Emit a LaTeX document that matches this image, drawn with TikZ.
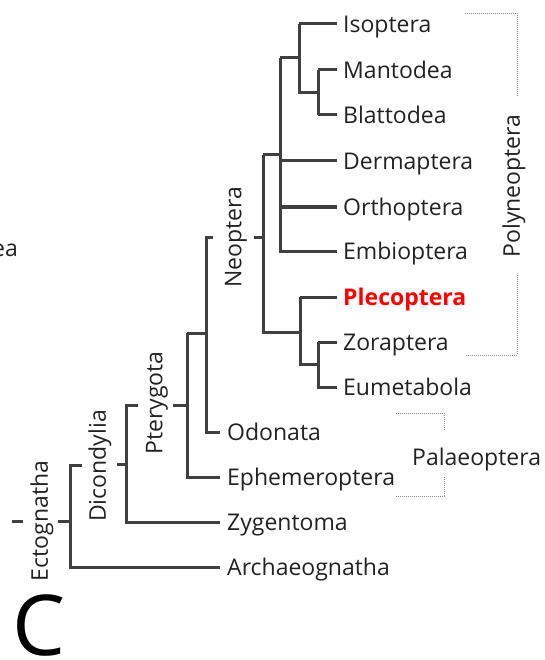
\documentclass[tikz,border=0pt]{standalone}
\usepackage{fontspec}
\setmainfont{Open Sans}
\definecolor{brc}{HTML}{404040}
\definecolor{txc}{HTML}{222222}
\definecolor{bkc}{HTML}{8A8A8A}
\definecolor{plc}{HTML}{FF0000}
\begin{document}
\begin{tikzpicture}[x=1pt,y=-1pt,
  br/.style={draw=brc,line width=3pt,line cap=butt,line join=miter},
  brk/.style={draw=bkc,line width=0.9pt,dash pattern=on 1pt off 1pt},
  tx/.style={font=\fontsize{23}{26}\selectfont,text=txc,inner sep=0pt,anchor=west,text height=16.4pt,text depth=0pt},
  cl/.style={font=\fontsize{23}{26}\selectfont,text=txc,inner sep=0pt,rotate=90}]
\useasboundingbox (0,0) rectangle (544,660);
% leaf labels
\node[tx] (iso) at (343,24) {Isoptera};
\node[tx] (man) at (343,70) {Mantodea};
\node[tx] (bla) at (343,115) {Blattodea};
\node[tx] (der) at (343,161) {Dermaptera};
\node[tx] (ort) at (343,207) {Orthoptera};
\node[tx] (emb) at (343,251) {Embioptera};
\node[tx,font=\fontsize{23}{26}\selectfont\bfseries,text=plc] (ple) at (343,297) {Plecoptera};
\node[tx] (zor) at (343,342) {Zoraptera};
\node[tx] (eum) at (343,387) {Eumetabola};
\node[tx] (odo) at (227,432) {Odonata};
\node[tx] (eph) at (227,477) {Ephemeroptera};
\node[tx] (zyg) at (227,522) {Zygentoma};
\node[tx] (arc) at (227,567) {Archaeognatha};
\node[tx,anchor=east] (ea) at (18,248) {ea};
% clade labels
\node[cl] (neo) at (236,237) {Neoptera};
\node[cl] (pte) at (157,403) {Pterygota};
\node[cl] (dic) at (100,466) {Dicondylia};
\node[cl] (ect) at (42,521) {Ectognatha};
\node[cl] (pol) at (514,186) {Polyneoptera};
\node[tx] (pal) at (412,457) {Palaeoptera};
\node[font=\fontsize{84}{90}\selectfont,text=black,inner sep=0pt,anchor=base west] (C) at (12,655) {C};
% internal nodes
\coordinate (nIMB) at (299,24);
\coordinate (nMB) at (318,70);
\coordinate (nPoly) at (280,58);
\coordinate (nNeo) at (263,155);
\coordinate (nPZE) at (300,297);
\coordinate (nZE) at (318,342);
\coordinate (nNO) at (206,237);
\coordinate (nPte) at (187,333);
\coordinate (nDic) at (126,405);
\coordinate (nEct) at (70,465);
% tree
\draw[br] (nMB) -- ([xshift=-6pt]man.west);
\draw[br] (nMB |- bla) -- ([xshift=-6pt]bla.west);
\draw[br] (nMB) -- (nMB |- bla);
\draw[br] (nIMB) -- ([xshift=-6pt]iso.west);
\draw[br] (nIMB) -- (299,93) -- (318,93);
\draw[br] (nPoly) -- (nIMB |- nPoly);
\draw[br] (nPoly) -- (nPoly |- emb) -- ([xshift=-6pt]emb.west);
\draw[br] (nPoly |- der) -- ([xshift=-6pt]der.west);
\draw[br] (nPoly |- ort) -- ([xshift=-6pt]ort.west);
\draw[br] (nNeo) -- (nPoly |- nNeo);
\draw[br] (nNeo) -- (263,332) -- (300,332);
\draw[br] (254,237) -- (263,237);
\draw[br] (nPZE) -- ([xshift=-6pt]ple.west);
\draw[br] (nPZE) -- (300,364) -- (318,364);
\draw[br] (nZE) -- ([xshift=-6pt]zor.west);
\draw[br] (nZE) -- (nZE |- eum) -- ([xshift=-6pt]eum.west);
\draw[br] (213,237) -- (nNO) -- (nNO |- odo) -- ([xshift=-7pt]odo.west);
\draw[br] (nPte) -- (206,333);
\draw[br] (nPte) -- (nPte |- eph) -- ([xshift=-7pt]eph.west);
\draw[br] (173,405) -- (187,405);
\draw[br] (138,405) -- (nDic) -- (nDic |- zyg) -- ([xshift=-7pt]zyg.west);
\draw[br] (117,464) -- (126,464);
\draw[br] (82,465) -- (nEct) -- (nEct |- arc) -- ([xshift=-7pt]arc.west);
\draw[br] (58,521) -- (70,521);
\draw[br] (12,521) -- (23,521);
% brackets
\draw[brk] (465,13) -- (517,13) -- (517,97);
\draw[brk] (517,275) -- (517,355) -- (465,355);
\draw[brk] (396,413) -- (444,413) -- (444,430);
\draw[brk] (444,477) -- (444,496) -- (396,496);
\end{tikzpicture}
\end{document}
